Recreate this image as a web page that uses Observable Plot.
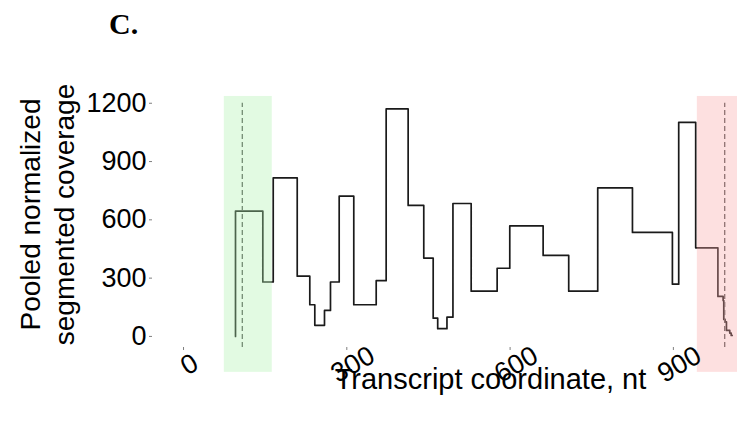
<!DOCTYPE html>
<html>
<head>
<meta charset="utf-8">
<script src="https://cdn.jsdelivr.net/npm/d3@7"></script>
<script src="https://cdn.jsdelivr.net/npm/@observablehq/plot@0.6"></script>
<style>
  html, body { margin: 0; padding: 0; background: #fff; overflow: hidden; width: 737px; height: 426px; }
  #head { position: relative; height: 50px; }
  #head span { position: absolute; left: 109px; top: 9px; font-family: "Liberation Serif", "Times New Roman", serif; font-weight: bold; font-size: 30px; line-height: 30px; color: #000; }
  #chart { width: 737px; overflow: hidden; }
  #chart svg { display: block; overflow: visible; max-width: none !important; width: 828px !important; height: 376px !important; }
</style>
</head>
<body>
<div id="head"><span>C.</span></div>
<div id="chart"></div>
<script>
// Segment breakpoints (transcript coordinate, nt) and pooled normalized segmented coverage
const segStart = [95.5, 95.5, 145.7, 164.8, 208.9, 232, 241.2, 259, 270, 286, 312.8, 354, 372.3, 412.7, 441.4, 458.7, 467, 484, 495, 528.5, 576.2, 599.4, 660.7, 707.7, 761, 824.8, 898.2, 909.8, 941, 981.8, 991.4, 992.6, 995.1, 997.5, 1003.6, 1006.2, 1008];
const segValue = [0, 645, 280, 816, 310, 163, 57, 134, 280, 722, 163, 287, 1171, 674, 403, 94, 40, 99, 684, 233, 351, 569, 417, 233, 765, 535, 269, 1102, 456, 206, 185, 87, 75, 31, 17, 5, 5];

// Highlighted regions (start, end in nt) and their colours
const regionStart = [75, 944];
const regionEnd = [163, 1060];
const regionColor = ["#acf1ac", "#f9a6a6"];
const regionBottom = -185, regionTop = 1235;

// Dashed marker positions (nt)
const markerX = [108, 994.3];
const markerBottom = -57, markerTop = 1200;

// Axis ticks and titles
const xTicks = [0, 300, 600, 900];
const yTicks = [0, 300, 600, 900, 1200];
const xDomain = [-57, 1185];
const yDomain = [-57, 1312];
const xTitle = "Transcript coordinate, nt";
const yTitle = "Pooled normalized\nsegmented coverage";

const steps = segStart.map((x, i) => ({x, y: segValue[i]}));
const regions = regionStart.map((s, i) => ({x1: s, x2: regionEnd[i], y1: regionBottom, y2: regionTop, fill: regionColor[i]}));
const markers = markerX.map(x => ({x, y1: markerBottom, y2: markerTop}));

const plot = Plot.plot({
  width: 828,
  height: 376,
  marginLeft: 152,
  marginRight: 0,
  marginTop: 31,
  marginBottom: 79,
  x: {domain: xDomain},
  y: {domain: yDomain},
  style: {fontFamily: "'Liberation Sans', Arial, sans-serif", fontSize: "27px", color: "#000", background: "#fff", overflow: "visible"},
  marks: [
    Plot.line(steps, {x: "x", y: "y", curve: "step-after", stroke: "#1a1a1a", strokeWidth: 1.7}),
    Plot.ruleX(markers, {x: "x", y1: "y1", y2: "y2", stroke: "#555", strokeWidth: 1.3, strokeDasharray: "5,3"}),
    Plot.rect(regions, {x1: "x1", x2: "x2", y1: "y1", y2: "y2", fill: "fill", fillOpacity: 0.35}),
    Plot.axisY({ticks: yTicks, tickSize: 3, tickPadding: 3, tickFormat: d => String(d), label: null, strokeOpacity: 0.5, fontSize: 27}),
    Plot.axisX({ticks: xTicks, tickSize: 3, tickFormat: () => "", label: null, strokeOpacity: 0.5}),
    Plot.text(xTicks, {x: d => d, frameAnchor: "bottom", dx: 6, dy: 17, rotate: -30, textAnchor: "middle", lineAnchor: "middle", fontSize: 27, text: d => String(d)}),
    Plot.text([xTitle], {frameAnchor: "bottom", dy: 41, lineAnchor: "bottom", textAnchor: "middle", fontSize: 29}),
    Plot.text([yTitle], {frameAnchor: "left", dx: -106.5, rotate: -90, textAnchor: "middle", lineAnchor: "middle", lineHeight: 1.22, fontSize: 28})
  ]
});
document.getElementById("chart").appendChild(plot);
</script>
</body>
</html>
